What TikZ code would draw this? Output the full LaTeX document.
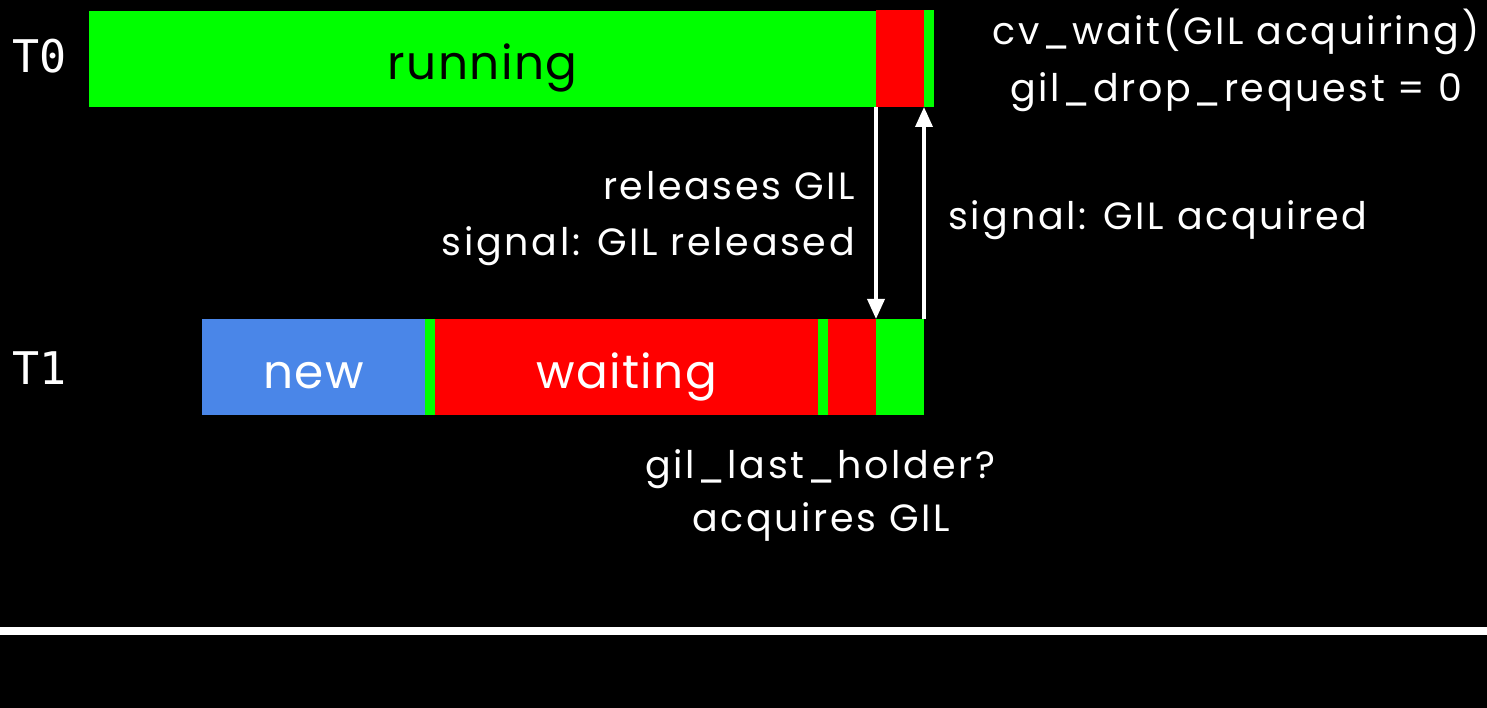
\documentclass[tikz,border=0pt]{standalone}
\usepackage{fontspec}
\setmainfont{Poppins}
\newfontfamily\monofont{DejaVu Sans Mono}
\newfontfamily\labelfont[LetterSpace=7]{Poppins}
\newfontfamily\barfont[LetterSpace=3]{Poppins}
\usetikzlibrary{arrows.meta,calc}
\definecolor{bargreen}{HTML}{00FF00}
\definecolor{barred}{HTML}{FF0000}
\definecolor{barblue}{HTML}{4A86E8}
\tikzset{
  seg/.style={anchor=north west, inner sep=0pt, outer sep=0pt, minimum height=96pt},
  bigtxt/.style={inner sep=0pt, anchor=base, font=\barfont\fontsize{47}{47}\selectfont},
  lbl/.style={text=white, inner sep=0pt, font=\labelfont\fontsize{38}{38}\selectfont},
  thr/.style={text=white, inner sep=0pt, anchor=base west, font=\monofont\fontsize{45}{45}\selectfont},
  arr/.style={draw=white, line width=3.5pt, -{Triangle[width=17pt,length=20pt]}}
}
\begin{document}
\begin{tikzpicture}[x=1pt,y=-1pt]
\useasboundingbox (0,0) rectangle (1487,708);
\fill[black] (0,0) rectangle (1487,708);
% thread labels
\node[thr] (t0) at (12,73) {T0};
\node[thr] (t1) at (12,384) {T1};
% T0 bar
\node[seg, fill=bargreen, minimum width=787pt] (run) at (89,11) {};
\node[seg, fill=barred, minimum width=48pt, minimum height=97pt] (t0red) at (876,10) {};
\node[seg, fill=bargreen, minimum width=10pt, minimum height=97pt] (t0grn) at (924,10) {};
\node[bigtxt, text=black] (runtxt) at ($(run.south)+(0,-27)$) {running};
% T1 bar
\node[seg, fill=barblue, minimum width=223pt] (new) at (202,319) {};
\node[seg, fill=bargreen, minimum width=10pt] (t1gA) at (425,319) {};
\node[seg, fill=barred, minimum width=383pt] (wait) at (435,319) {};
\node[seg, fill=bargreen, minimum width=10pt] (t1gB) at (818,319) {};
\node[seg, fill=barred, minimum width=48pt] (t1rB) at (828,319) {};
\node[seg, fill=bargreen, minimum width=48pt] (t1gC) at (876,319) {};
\node[bigtxt, text=white] (newtxt) at ($(new.south)+(0,-27)$) {new};
\node[bigtxt, text=white] (waittxt) at ($(wait.south)+(0,-27)$) {waiting};
% arrows
\draw[arr] (t0red.south west) -- (t1gC.north west);
\draw[arr] (t1gC.north east) -- (t0red.south east);
% labels
\node[lbl, anchor=base] (cv) at (1236,45) {cv\_wait(GIL acquiring)};
\node[lbl, anchor=base] (drop) at (1236,102) {gil\_drop\_request = 0};
\node[lbl, anchor=base east] (rel) at (855,200) {releases GIL};
\node[lbl, anchor=base east] (sigrel) at (855,256) {signal: GIL released};
\node[lbl, anchor=base west] (sigacq) at (948,230) {signal: GIL acquired};
\node[lbl, anchor=base] (last) at (820,478) {gil\_last\_holder?};
\node[lbl, anchor=base] (acq) at (821,531) {acquires GIL};
% separator
\fill[white] (0,627) rectangle (1487,635);
\end{tikzpicture}
\end{document}
